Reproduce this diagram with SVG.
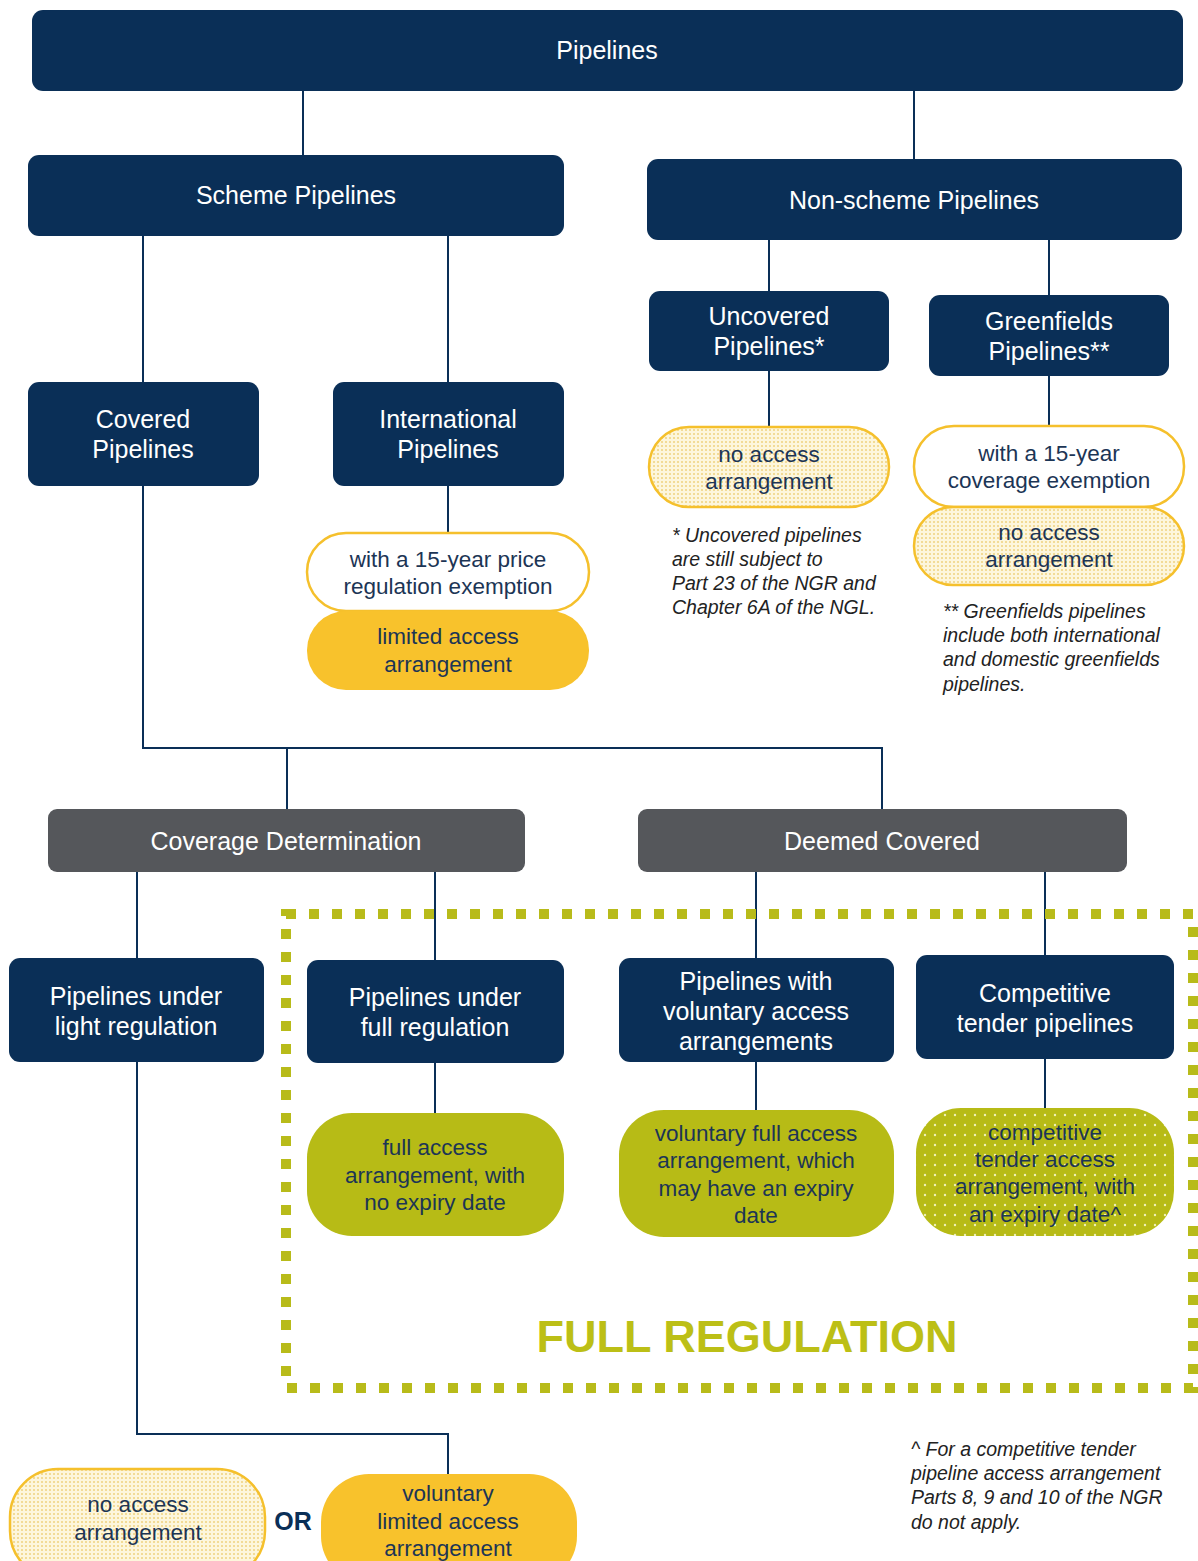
<svg xmlns="http://www.w3.org/2000/svg" width="1198" height="1561" viewBox="0 0 1198 1561">
<style>
.n{fill:#0a2f57}
.g{fill:#55575b}
.t{font-family:"Liberation Sans",Arial,sans-serif;font-size:25px;fill:#fff;text-anchor:middle}
.p{font-family:"Liberation Sans",Arial,sans-serif;font-size:22.5px;fill:#1c3555;text-anchor:middle}
.f{font-family:"Liberation Sans",Arial,sans-serif;font-size:19.5px;font-style:italic;fill:#222;}
.c{fill:none;stroke:#0a2f57;stroke-width:2}
.yo{stroke:#f5c02c;stroke-width:2.5}
</style>
<defs>
<pattern id="dotY" width="4" height="4" patternUnits="userSpaceOnUse">
<rect width="4" height="4" fill="#fdf6dc"/>
<circle cx="2" cy="2" r="1" fill="#efd27e"/>
</pattern>
<pattern id="dotG" width="10" height="10" patternUnits="userSpaceOnUse">
<rect width="10" height="10" fill="#b7bb16"/>
<circle cx="5" cy="5" r="1.2" fill="#eef0b8"/>
</pattern>
</defs>
<rect width="1198" height="1561" fill="#fff"/>

<g id="connectors">
<path class="c" d="M303 91V155M914 91V159"/>
<path class="c" d="M143 236V382M448 236V382"/>
<path class="c" d="M769 240V291M1049 240V295M769 371V427M1049 376V426"/>
<path class="c" d="M448 486V533"/>
<path class="c" d="M143 486V748H882V809M287 748V809"/>
<path class="c" d="M137 872V958M435 872V960M756 872V958M1045 872V955"/>
<path class="c" d="M435 1063V1113M756 1062V1110M1045 1059V1108"/>
<path class="c" d="M137 1062V1434H448V1474"/>
</g>

<rect id="full-regulation-frame" x="286" y="914" width="907" height="474" fill="none" stroke="#b8bb1a" stroke-width="10" stroke-dasharray="10 13"/>
<text x="747" y="1352" font-family="'Liberation Sans',Arial,sans-serif" font-size="45" font-weight="bold" fill="#bcbf16" text-anchor="middle">FULL REGULATION</text>

<g id="pipelines"><rect class="n" x="32" y="10" width="1151" height="81" rx="11"/><text class="t" x="607" y="59">Pipelines</text></g>
<g id="scheme"><rect class="n" x="28" y="155" width="536" height="81" rx="11"/><text class="t" x="296" y="204">Scheme Pipelines</text></g>
<g id="nonscheme"><rect class="n" x="647" y="159" width="535" height="81" rx="11"/><text class="t" x="914" y="209">Non-scheme Pipelines</text></g>

<g id="covered"><rect class="n" x="28" y="382" width="231" height="104" rx="11"/><text class="t" x="143" y="428">Covered</text><text class="t" x="143" y="458">Pipelines</text></g>
<g id="international"><rect class="n" x="333" y="382" width="231" height="104" rx="11"/><text class="t" x="448" y="428">International</text><text class="t" x="448" y="458">Pipelines</text></g>
<g id="uncovered"><rect class="n" x="649" y="291" width="240" height="80" rx="11"/><text class="t" x="769" y="325">Uncovered</text><text class="t" x="769" y="355">Pipelines*</text></g>
<g id="greenfields"><rect class="n" x="929" y="295" width="240" height="81" rx="11"/><text class="t" x="1049" y="330">Greenfields</text><text class="t" x="1049" y="360">Pipelines**</text></g>

<g id="uncovered-noaccess"><rect class="yo" fill="url(#dotY)" x="649" y="427" width="240" height="80" rx="40"/><text class="p" x="769" y="462">no access</text><text class="p" x="769" y="489">arrangement</text></g>
<g id="greenfields-exemption"><rect class="yo" fill="#fff" x="914" y="426" width="270" height="81" rx="40"/><text class="p" x="1049" y="461">with a 15-year</text><text class="p" x="1049" y="488">coverage exemption</text></g>
<g id="greenfields-noaccess"><rect class="yo" fill="url(#dotY)" x="914" y="507" width="270" height="78" rx="39"/><text class="p" x="1049" y="540">no access</text><text class="p" x="1049" y="567">arrangement</text></g>

<g id="intl-exemption"><rect class="yo" fill="#fff" x="307" y="533" width="282" height="78" rx="39"/><text class="p" x="448" y="567">with a 15-year price</text><text class="p" x="448" y="594">regulation exemption</text></g>
<g id="intl-limited"><rect fill="#f8c22c" x="307" y="611" width="282" height="79" rx="39"/><text class="p" x="448" y="644">limited access</text><text class="p" x="448" y="672">arrangement</text></g>

<g id="note-uncovered">
<text class="f" x="672" y="542">* Uncovered pipelines</text>
<text class="f" x="672" y="566">are still subject to</text>
<text class="f" x="672" y="590">Part 23 of the NGR and</text>
<text class="f" x="672" y="614">Chapter 6A of the NGL.</text>
</g>
<g id="note-greenfields">
<text class="f" x="943" y="618">** Greenfields pipelines</text>
<text class="f" x="943" y="642">include both international</text>
<text class="f" x="943" y="666">and domestic greenfields</text>
<text class="f" x="943" y="691">pipelines.</text>
</g>

<g id="coverage-determination"><rect class="g" x="48" y="809" width="477" height="63" rx="9"/><text class="t" x="286" y="850">Coverage Determination</text></g>
<g id="deemed-covered"><rect class="g" x="638" y="809" width="489" height="63" rx="9"/><text class="t" x="882" y="850">Deemed Covered</text></g>

<g id="light-regulation"><rect class="n" x="9" y="958" width="255" height="104" rx="11"/><text class="t" x="136" y="1005">Pipelines under</text><text class="t" x="136" y="1035">light regulation</text></g>
<g id="full-reg-pipelines"><rect class="n" x="307" y="960" width="257" height="103" rx="11"/><text class="t" x="435" y="1006">Pipelines under</text><text class="t" x="435" y="1036">full regulation</text></g>
<g id="voluntary-pipelines"><rect class="n" x="619" y="958" width="275" height="104" rx="11"/><text class="t" x="756" y="990">Pipelines with</text><text class="t" x="756" y="1020">voluntary access</text><text class="t" x="756" y="1050">arrangements</text></g>
<g id="competitive-pipelines"><rect class="n" x="916" y="955" width="258" height="104" rx="11"/><text class="t" x="1045" y="1002">Competitive</text><text class="t" x="1045" y="1032">tender pipelines</text></g>

<g id="full-access"><rect fill="#b7bb16" x="307" y="1113" width="257" height="123" rx="45"/><text class="p" x="435" y="1155">full access</text><text class="p" x="435" y="1183">arrangement, with</text><text class="p" x="435" y="1210">no expiry date</text></g>
<g id="voluntary-full"><rect fill="#b7bb16" x="619" y="1110" width="275" height="127" rx="45"/><text class="p" x="756" y="1141">voluntary full access</text><text class="p" x="756" y="1168">arrangement, which</text><text class="p" x="756" y="1196">may have an expiry</text><text class="p" x="756" y="1223">date</text></g>
<g id="competitive-access"><rect fill="url(#dotG)" x="916" y="1108" width="258" height="128" rx="45"/><text class="p" x="1045" y="1140">competitive</text><text class="p" x="1045" y="1167">tender access</text><text class="p" x="1045" y="1194">arrangement, with</text><text class="p" x="1045" y="1222">an expiry date^</text></g>

<g id="light-noaccess"><rect class="yo" fill="url(#dotY)" x="10" y="1469" width="255" height="110" rx="48"/><text class="p" x="138" y="1512">no access</text><text class="p" x="138" y="1540">arrangement</text></g>
<text x="293" y="1530" font-family="'Liberation Sans',Arial,sans-serif" font-size="25" font-weight="bold" fill="#0a2f57" text-anchor="middle">OR</text>
<g id="light-voluntary"><rect fill="#f8c22c" x="321" y="1474" width="256" height="110" rx="48"/><text class="p" x="448" y="1501">voluntary</text><text class="p" x="448" y="1529">limited access</text><text class="p" x="448" y="1556">arrangement</text></g>

<g id="note-competitive">
<text class="f" x="911" y="1456">^ For a competitive tender</text>
<text class="f" x="911" y="1480">pipeline access arrangement</text>
<text class="f" x="911" y="1504">Parts 8, 9 and 10 of the NGR</text>
<text class="f" x="911" y="1529">do not apply.</text>
</g>
</svg>
